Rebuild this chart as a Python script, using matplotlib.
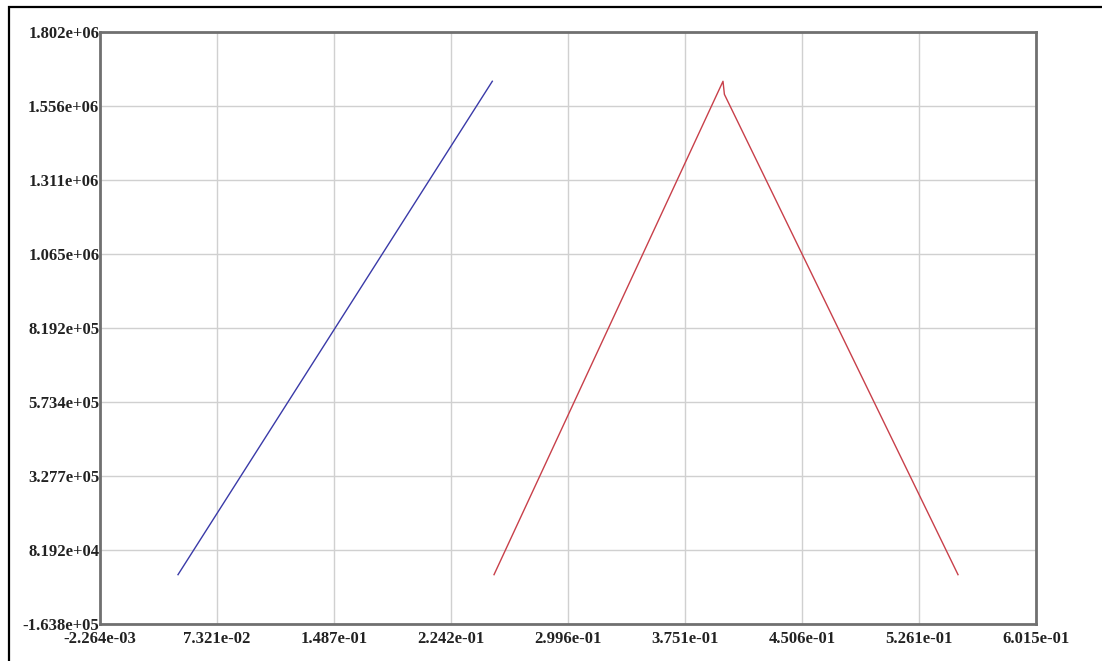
import matplotlib
matplotlib.use("Agg")
import matplotlib.pyplot as plt
from matplotlib.patches import Rectangle

# Data
blue_x = [0.04805, 0.2508]
blue_y = [0.0, 1638400.0]
red_x = [0.2519, 0.3996, 0.4005, 0.5512]
red_y = [0.0, 1638400.0, 1595000.0, 0.0]

x_ticks = [-2.264e-03, 7.321e-02, 1.487e-01, 2.242e-01, 2.996e-01,
           3.751e-01, 4.506e-01, 5.261e-01, 6.015e-01]
x_labels = ["-2.264e-03", "7.321e-02", "1.487e-01", "2.242e-01", "2.996e-01",
            "3.751e-01", "4.506e-01", "5.261e-01", "6.015e-01"]
y_ticks = [-1.638e+05, 8.192e+04, 3.277e+05, 5.734e+05, 8.192e+05,
           1.065e+06, 1.311e+06, 1.556e+06, 1.802e+06]
y_labels = ["-1.638e+05", "8.192e+04", "3.277e+05", "5.734e+05", "8.192e+05",
            "1.065e+06", "1.311e+06", "1.556e+06", "1.802e+06"]

W, H = 1102, 661
fig = plt.figure(figsize=(W / 100, H / 100), dpi=100)
fig.patch.set_facecolor("white")

# outer frame (top and left visible)
fig.add_artist(Rectangle((9 / W, -0.1), 1.2, (H - 7) / H + 0.1,
                         transform=fig.transFigure, fill=False,
                         edgecolor="black", linewidth=1.6))

ax = fig.add_axes([100 / W, (H - 624) / H, 936 / W, 592 / H])
ax.set_xlim(x_ticks[0], x_ticks[-1])
ax.set_ylim(y_ticks[0], y_ticks[-1])

ax.grid(True, color="#d0d0d0", linewidth=1.0)
ax.set_axisbelow(True)

ax.plot(blue_x, blue_y, color="#3a3aa8", linewidth=1.0)
ax.plot(red_x, red_y, color="#c8404a", linewidth=1.0)

ax.set_xticks(x_ticks)
ax.set_xticklabels(x_labels)
ax.set_yticks(y_ticks)
ax.set_yticklabels(y_labels)
ax.tick_params(axis="x", length=0, pad=5, labelsize=12, colors="#222222")
ax.tick_params(axis="y", length=0, pad=0.5, labelsize=12, colors="#222222")
for lab in ax.get_xticklabels() + ax.get_yticklabels():
    lab.set_fontfamily("Liberation Serif")
    lab.set_fontweight("bold")

for s in ax.spines.values():
    s.set_color("#707070")
    s.set_linewidth(2.0)

fig.savefig("out.png", dpi=100, facecolor="white")
